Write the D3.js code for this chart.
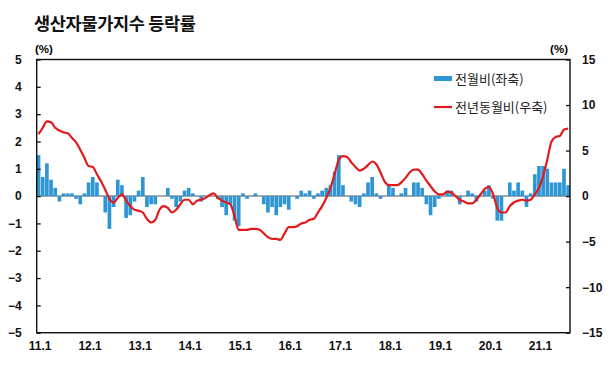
<!DOCTYPE html>
<html>
<head>
<meta charset="utf-8">
<script src="https://cdn.jsdelivr.net/npm/d3@7"></script>
<style>
  body { margin: 0; background: #fff; }
  svg text { font-family: "Liberation Sans", Arial, sans-serif; }
</style>
</head>
<body>
<svg id="chart" width="614" height="370"></svg>
<script>
// monthly, 2011.1 ~ 2021.8
var momValues = [ // 전월비 (%), left axis
	1.5, 0.7, 1.2, 0.6, 0.3, -0.2, 0.1, 0.1, 0.1, -0.1, -0.3, 0.1,
	0.5, 0.7, 0.5, 0, -0.6, -1.2, -0.4, 0.6, 0.4, -0.8, -0.7, -0.2,
	0.2, 0.7, -0.4, -0.3, -0.3, 0, 0, 0.3, -0.1, -0.4, -0.2, 0.2,
	0.3, 0.1, 0, -0.2, 0, 0, 0, -0.1, -0.4, -0.7, -0.3, -0.9,
	-1.1, 0.1, -0.1, 0, 0.1, 0, -0.3, -0.6, -0.4, -0.7, -0.4, -0.3,
	-0.5, 0, -0.1, 0.2, 0.1, 0.2, -0.1, 0.1, 0.2, 0.3, 0.4, 0.9,
	1.5, 0.4, 0, -0.2, -0.3, -0.4, 0.1, 0.5, 0.7, 0.1, -0.1, 0,
	0.4, 0.3, 0, 0.1, 0.3, 0, 0.5, 0.5, 0.3, -0.3, -0.7, -0.4,
	-0.1, 0, 0.2, 0.2, 0, -0.3, 0, 0.2, 0.1, -0.2, 0, 0.2,
	0.4, -0.1, -0.9, -0.9, 0, 0.5, 0.2, 0.5, 0.2, -0.4, 0.1, 0.8,
	1.1, 1.1, 1.0, 0.5, 0.5, 0.5, 1.0, 0.4
];
var yoyValues = [ // 전년동월비 (%), right axis
	6.8, 7.5, 8.2, 8.1, 7.5, 7.2, 7.0, 6.9, 6.4, 5.9, 5.1, 4.2,
	3.3, 3.2, 2.4, 1.6, 0.7, -0.3, -0.7, -0.2, 0.2, -0.5, -1.1, -1.5,
	-1.6, -1.8, -2.5, -2.9, -2.6, -1.5, -1.1, -1.3, -1.8, -1.5, -0.9, -0.4,
	-0.4, -0.9, -0.5, -0.4, -0.2, 0.1, 0.3, -0.2, -0.5, -0.7, -0.9, -2.2,
	-3.7, -3.7, -3.7, -3.6, -3.6, -3.7, -4.1, -4.5, -4.7, -4.7, -4.8, -4.1,
	-3.4, -3.4, -3.3, -3.0, -2.9, -2.6, -2.5, -1.8, -1.1, -0.2, 0.9, 2.4,
	4.0, 4.4, 4.3, 3.7, 3.2, 2.8, 3.0, 3.4, 3.8, 3.5, 2.6, 1.6,
	1.2, 1.2, 1.2, 1.5, 2.0, 2.6, 2.9, 2.9, 2.4, 1.7, 1.1, 0.5,
	0.2, 0.2, 0.5, 0.4, 0, -0.4, -0.6, -0.8, -0.8, -0.4, 0.2, 0.8,
	1.0, 0.2, -1.3, -1.8, -1.8, -1.1, -0.7, -0.5, -0.4, -0.5, -0.4, 0.2,
	0.9, 2.2, 4.0, 6.0, 6.5, 6.6, 7.3, 7.4
];
var xTickLabels = ["11.1", "12.1", "13.1", "14.1", "15.1", "16.1", "17.1", "18.1", "19.1", "20.1", "21.1"];
var leftTicks = [5, 4, 3, 2, 1, 0, -1, -2, -3, -4, -5];
var rightTicks = [15, 10, 5, 0, -5, -10, -15];
var legendLabels = ["전월비(좌축)", "전년동월비(우축)"];

var colorBar = "#2f96d6";
var colorLine = "#e31a1c";

const margin = { left: 36.7, right: 570, top: 59.5, bottom: 332.7 },
	svg = d3.select('svg#chart');

// month keys: index -> "yy.m"
const months = momValues.map((d, i) => (11 + Math.floor(i / 12)) + "." + (i % 12 + 1));

const x = d3.scaleBand()
	.domain(months)
	.range([margin.left, margin.right])
	.paddingInner(0.12);
const yL = d3.scaleLinear().domain([-5, 5]).range([margin.bottom, margin.top]);
const yR = d3.scaleLinear().domain([-15, 15]).range([margin.bottom, margin.top]);
const xc = d => x(d) + x.bandwidth() / 2;

// title
svg.append('text')
	.attr('x', 34).attr('y', 30)
	.style('font-family', '"Noto Sans CJK KR", sans-serif')
	.style('font-weight', 'bold')
	.style('font-size', '17.5px')
	.style('letter-spacing', '-0.3px')
	.attr('fill', '#111')
	.text('생산자물가지수 등락률');

// unit labels
svg.append('text').attr('x', 35).attr('y', 53)
	.style('font-weight', 'bold').style('font-size', '11.5px').text('(%)');
svg.append('text').attr('x', 568).attr('y', 53).attr('text-anchor', 'end')
	.style('font-weight', 'bold').style('font-size', '11.5px').text('(%)');

// zero line
svg.append('line')
	.attr('x1', margin.left).attr('x2', margin.right)
	.attr('y1', yL(0)).attr('y2', yL(0))
	.attr('stroke', '#a8a8a8').attr('stroke-width', 2);

// bars
svg.append('g').selectAll('rect')
	.data(momValues)
	.join('rect')
	.attr('x', (d, i) => x(months[i]))
	.attr('width', x.bandwidth())
	.attr('y', d => yL(Math.max(0, d)))
	.attr('height', d => Math.abs(yL(d) - yL(0)))
	.attr('fill', colorBar);

// yoy line
const line = d3.line()
	.x((d, i) => xc(months[i]))
	.y(d => yR(d))
	.curve(d3.curveMonotoneX);
svg.append('path')
	.datum(yoyValues)
	.attr('d', line)
	.attr('fill', 'none')
	.attr('stroke', colorLine)
	.attr('stroke-width', 2.2)
	.attr('stroke-linejoin', 'round');

// frame
svg.append('rect')
	.attr('x', margin.left).attr('y', margin.top)
	.attr('width', margin.right - margin.left)
	.attr('height', margin.bottom - margin.top)
	.attr('fill', 'none').attr('stroke', '#111').attr('stroke-width', 1.4);

// left axis
const axL = svg.append('g')
	.attr('transform', `translate(${margin.left},0)`)
	.call(d3.axisRight(yL).tickValues(leftTicks).tickSize(4).tickFormat(d3.format('d')));
axL.select('.domain').remove();
axL.selectAll('.tick line').attr('stroke', '#111').attr('stroke-width', 1.3);
axL.selectAll('.tick text')
	.attr('x', -15).attr('text-anchor', 'end')
	.style('font-family', '"Liberation Sans", Arial, sans-serif')
	.style('font-weight', 'bold').style('font-size', '12px').attr('fill', '#111');

// right axis
const axR = svg.append('g')
	.attr('transform', `translate(${margin.right},0)`)
	.call(d3.axisLeft(yR).tickValues(rightTicks).tickSize(4).tickFormat(d3.format('d')));
axR.select('.domain').remove();
axR.selectAll('.tick line').attr('stroke', '#111').attr('stroke-width', 1.3);
axR.selectAll('.tick text')
	.attr('x', 12).attr('text-anchor', 'start')
	.style('font-family', '"Liberation Sans", Arial, sans-serif')
	.style('font-weight', 'bold').style('font-size', '12px').attr('fill', '#111');

// x axis labels
const axX = svg.append('g')
	.attr('transform', `translate(0,${margin.bottom})`)
	.call(d3.axisBottom(x)
		.tickValues(xTickLabels)
		.tickSize(0)
		.tickPadding(9));
axX.select('.domain').remove();
axX.selectAll('.tick text')
	.attr('dx', 1.5)
	.style('font-family', '"Liberation Sans", Arial, sans-serif')
	.style('font-weight', 'bold').style('font-size', '12px').attr('fill', '#111');

// legend
const legend = svg.append('g');
legend.append('rect')
	.attr('x', 434).attr('y', 76).attr('width', 18).attr('height', 5)
	.attr('fill', colorBar);
legend.append('line')
	.attr('x1', 434).attr('x2', 452).attr('y1', 107).attr('y2', 107)
	.attr('stroke', colorLine).attr('stroke-width', 2.2);
legend.selectAll('text.lg')
	.data(legendLabels)
	.join('text')
	.classed('lg', true)
	.attr('x', 455)
	.attr('y', (d, i) => [79, 107][i])
	.attr('dy', '0.35em')
	.style('font-family', '"Noto Sans CJK KR", sans-serif')
	.style('font-size', '13px')
	.attr('fill', '#222')
	.text(d => d);
</script>
</body>
</html>
